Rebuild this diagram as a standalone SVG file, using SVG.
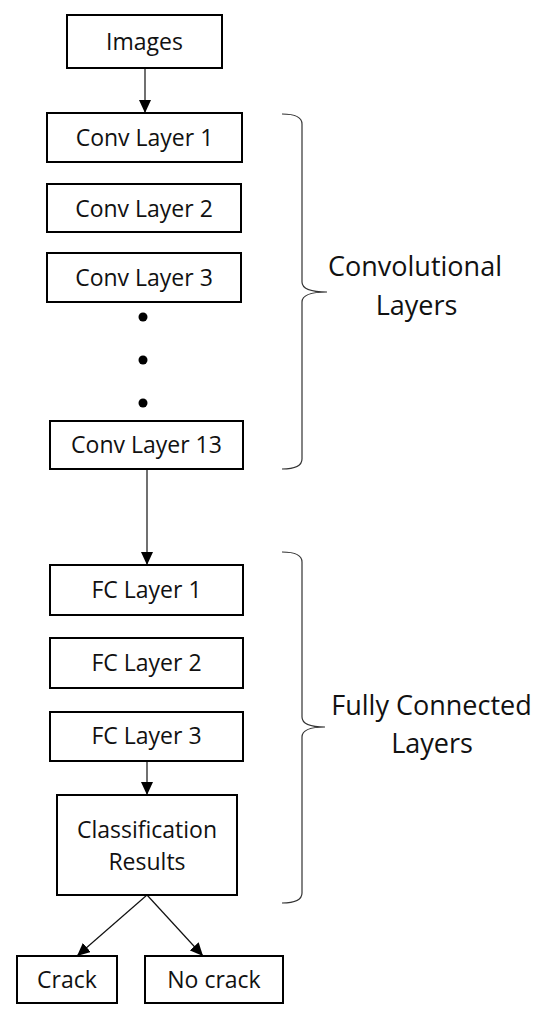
<svg xmlns="http://www.w3.org/2000/svg" width="550" height="1018" viewBox="0 0 550 1018">
<style>
.box{fill:#fff;stroke:#000;stroke-width:2}
.t{font-family:"Open Sans",sans-serif;font-size:23px;fill:#111;text-anchor:middle}
.lbl{font-family:"Open Sans",sans-serif;font-size:27px;fill:#111;text-anchor:middle}
.conn{stroke:#111;stroke-width:1.2;fill:none}
.brace{stroke:#333;stroke-width:1.2;fill:none}
</style>
<defs>
<marker id="ah" markerUnits="userSpaceOnUse" markerWidth="14" markerHeight="12" refX="13" refY="6" orient="auto">
<path d="M0,0 L13,6 L0,12 z" fill="#000"/>
</marker>
</defs>
<rect width="550" height="1018" fill="#fff"/>
<g id="connectors">
<line class="conn" x1="145" y1="68" x2="145" y2="113" marker-end="url(#ah)"/>
<line class="conn" x1="147" y1="469" x2="147" y2="565" marker-end="url(#ah)"/>
<line class="conn" x1="147" y1="761" x2="147" y2="795" marker-end="url(#ah)"/>
<line class="conn" x1="147" y1="895" x2="77" y2="956" marker-end="url(#ah)"/>
<line class="conn" x1="147" y1="895" x2="203" y2="956" marker-end="url(#ah)"/>
</g>
<g id="images"><rect class="box" x="67" y="15" width="155" height="53"/><text class="t" x="144.5" y="50">Images</text></g>
<g id="conv1"><rect class="box" x="47" y="113" width="195" height="49"/><text class="t" x="144.5" y="146">Conv Layer 1</text></g>
<g id="conv2"><rect class="box" x="47" y="184" width="194" height="48"/><text class="t" x="144" y="217">Conv Layer 2</text></g>
<g id="conv3"><rect class="box" x="47" y="253" width="194" height="49"/><text class="t" x="144" y="286">Conv Layer 3</text></g>
<g id="dots" fill="#000"><circle cx="143" cy="317" r="4.5"/><circle cx="143" cy="360" r="4.5"/><circle cx="143" cy="403" r="4.5"/></g>
<g id="conv13"><rect class="box" x="50" y="421" width="193" height="48"/><text class="t" x="146.5" y="453">Conv Layer 13</text></g>
<g id="fc1"><rect class="box" x="50" y="565" width="193" height="50"/><text class="t" x="146.5" y="598">FC Layer 1</text></g>
<g id="fc2"><rect class="box" x="50" y="638" width="193" height="50"/><text class="t" x="146.5" y="671">FC Layer 2</text></g>
<g id="fc3"><rect class="box" x="50" y="712" width="193" height="49"/><text class="t" x="146.5" y="744">FC Layer 3</text></g>
<g id="classification"><rect class="box" x="57" y="795" width="180" height="100"/><text class="t" x="147" y="838">Classification</text><text class="t" x="147" y="870">Results</text></g>
<g id="crack"><rect class="box" x="17" y="956" width="100" height="47"/><text class="t" x="67" y="988">Crack</text></g>
<g id="nocrack"><rect class="box" x="145" y="956" width="138" height="47"/><text class="t" x="214" y="988">No crack</text></g>
<g id="conv-brace"><path class="brace" d="M282,114 Q302,114 302,124 L302,282 Q302,292 327,292 Q302,292 302,302 L302,459 Q302,469 282,469"/><text class="lbl" x="415" y="276">Convolutional</text><text class="lbl" x="416.5" y="315">Layers</text></g>
<g id="fc-brace"><path class="brace" d="M282,552 Q302,552 302,562 L302,717 Q302,727 325,727 Q302,727 302,737 L302,893 Q302,903 282,903"/><text class="lbl" x="431.5" y="715">Fully Connected</text><text class="lbl" x="432" y="753">Layers</text></g>
</svg>
